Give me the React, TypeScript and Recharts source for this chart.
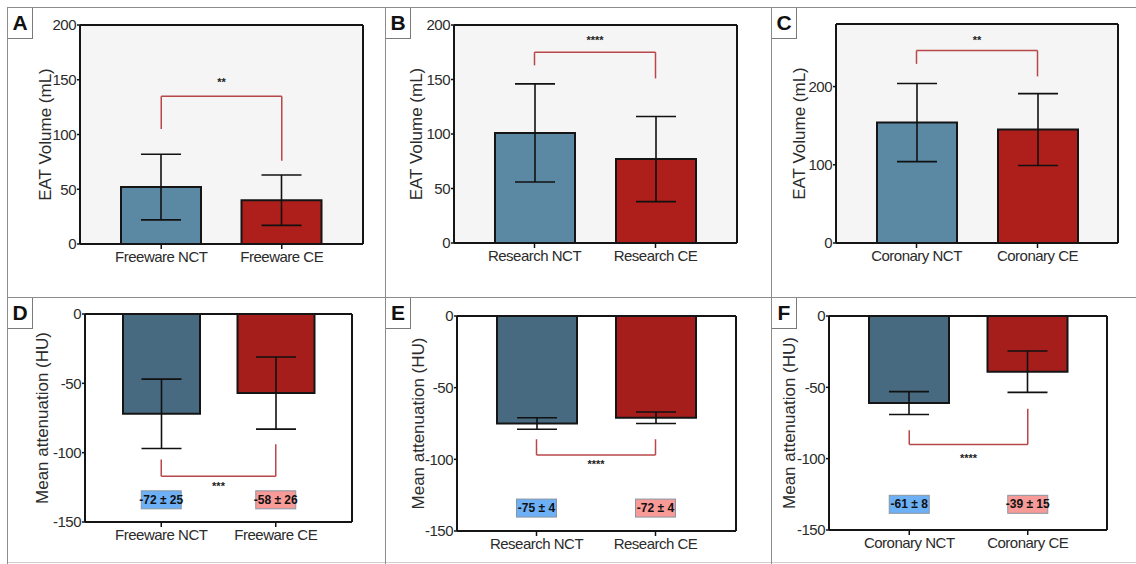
import React from 'react';
import {
  BarChart, Bar, Cell, ErrorBar, XAxis, YAxis, CartesianGrid,
  ReferenceLine, ReferenceDot,
} from 'recharts';

// categories
const freewareCats = ['Freeware NCT', 'Freeware CE'];
const researchCats = ['Research NCT', 'Research CE'];
const coronaryCats = ['Coronary NCT', 'Coronary CE'];

// EAT volume (mL), mean and SD
const freewareVolume = [52, 40];
const freewareVolumeSd = [30, 23];
const researchVolume = [101, 77];
const researchVolumeSd = [45, 39];
const coronaryVolume = [154, 145];
const coronaryVolumeSd = [50, 46];

// mean attenuation (HU), mean and SD
const freewareHu = [-72, -57];
const freewareHuSd = [25, 26];
const researchHu = [-75, -71];
const researchHuSd = [4, 4];
const coronaryHu = [-61, -39];
const coronaryHuSd = [8, 14.5];

const freewareHuText = ['-72 ± 25', '-58 ± 26'];
const researchHuText = ['-75 ± 4', '-72 ± 4'];
const coronaryHuText = ['-61 ± 8', '-39 ± 15'];

// significance brackets: [bar level, left leg end, right leg end]
const bracketA = [135, 105, 76];
const bracketB = [175, 163, 151];
const bracketC = [246, 229, 213];
const bracketD = [-117, -105, -94];
const bracketE = [-97, -86, -86];
const bracketF = [-90, -80, -65];

const volumeTicks = [0, 50, 100, 150, 200];
const coronaryTicks = [0, 100, 200];
const huTicks = [-150, -100, -50, 0];

const FONT = '"Liberation Sans", Arial, Helvetica, sans-serif';
const TOP_COLORS = ['#5b89a4', '#ae1f1b'];
const BOTTOM_COLORS = ['#476a80', '#a61e1c'];
const BRACKET = '#b8474a';

type Rect = { x: number; y: number; w: number; h: number };
type Plot = { x0: number; y0: number; x1: number; y1: number };

type PanelProps = {
  letter: string;
  cell: Rect;
  plot: Plot;
  cats: string[];
  means: number[];
  sds: number[];
  colors: string[];
  domain: [number, number];
  ticks: number[];
  yLabel: string;
  labelDx: number;
  bracket: number[];
  stars: string;
  starSide: 'top' | 'bottom';
  starOffset: number;
  bg: string;
  barSize: number;
  pad: [number, number];
  summary?: string[];
  summaryY?: number;
};

const SummaryBox = (props: any) => {
  const { cx, cy, text, fill } = props;
  const w = 40;
  const h = 18;
  return (
    <g>
      <rect x={cx - w / 2} y={cy - h / 2} width={w} height={h} fill={fill} stroke="#8a96a3" strokeWidth={1} />
      <text
        x={cx}
        y={cy + 4}
        textAnchor="middle"
        fontSize={12}
        fontWeight={700}
        fill="#111"
        style={{ fontFamily: '"Liberation Sans Narrow", "Arial Narrow", Arial, sans-serif' }}
      >
        {text}
      </text>
    </g>
  );
};

const tickStyle = { fontSize: 15, fill: '#2b2b2b', fontFamily: FONT, letterSpacing: -0.5 };

function Panel(p: PanelProps) {
  const yw = 60;
  const xh = 30;
  const data = p.cats.map((c, i) => ({ name: c, mean: p.means[i], sd: p.sds[i] }));
  const margin = {
    top: p.plot.y0 - p.cell.y,
    left: p.plot.x0 - p.cell.x - yw,
    right: p.cell.x + p.cell.w - p.plot.x1,
    bottom: p.cell.y + p.cell.h - p.plot.y1 - xh,
  };
  const [lvl, leftEnd, rightEnd] = p.bracket;
  const boxFills = ['#6db0f6', '#f79a98'];

  return (
    <div style={{ position: 'absolute', left: p.cell.x, top: p.cell.y, width: p.cell.w, height: p.cell.h }}>
      <BarChart width={p.cell.w} height={p.cell.h} data={data} margin={margin}>
        <CartesianGrid
          fill={p.bg}
          fillOpacity={1}
          stroke="#151515"
          strokeWidth={2}
          horizontalCoordinatesGenerator={({ offset }: any) => [offset.top, offset.top + offset.height]}
          verticalCoordinatesGenerator={({ offset }: any) => [offset.left, offset.left + offset.width]}
        />
        <XAxis
          dataKey="name"
          height={xh}
          axisLine={false}
          tickLine={{ stroke: '#111', strokeWidth: 1.5 }}
          tickSize={5}
          tickMargin={2}
          padding={{ left: p.pad[0], right: p.pad[1] }}
          tick={tickStyle}
          interval={0}
        />
        <YAxis
          width={yw}
          domain={p.domain}
          ticks={p.ticks}
          allowDataOverflow
          axisLine={false}
          tickLine={{ stroke: '#111', strokeWidth: 1.5 }}
          tickSize={3}
          tickMargin={1}
          tick={tickStyle}
          label={(lp: any) => {
            const vb = lp.viewBox;
            const cx = vb.x + vb.width - p.labelDx;
            const cy = vb.y + vb.height / 2;
            return (
              <text
                x={cx}
                y={cy}
                transform={`rotate(-90 ${cx} ${cy})`}
                textAnchor="middle"
                dominantBaseline="central"
                fontSize={17}
                fill="#2b2b2b"
                style={{ fontFamily: FONT }}
              >
                {p.yLabel}
              </text>
            );
          }}
        />
        <Bar dataKey="mean" barSize={p.barSize} stroke="#151515" strokeWidth={2} isAnimationActive={false}>
          {data.map((d, i) => (
            <Cell key={d.name} fill={p.colors[i]} />
          ))}
          <ErrorBar dataKey="sd" width={20} stroke="#111" strokeWidth={1.6} direction="y" />
        </Bar>
        <ReferenceLine
          segment={[{ x: p.cats[0], y: lvl }, { x: p.cats[1], y: lvl }]}
          stroke={BRACKET}
          strokeWidth={1.5}
          label={{
            value: p.stars,
            position: p.starSide,
            offset: p.starOffset,
            fontSize: 11,
            fontWeight: 700,
            fill: '#222',
            fontFamily: FONT,
          }}
        />
        <ReferenceLine segment={[{ x: p.cats[0], y: lvl }, { x: p.cats[0], y: leftEnd }]} stroke={BRACKET} strokeWidth={1.5} />
        <ReferenceLine segment={[{ x: p.cats[1], y: lvl }, { x: p.cats[1], y: rightEnd }]} stroke={BRACKET} strokeWidth={1.5} />
        {p.summary &&
          p.summary.map((t, i) => (
            <ReferenceDot
              key={t}
              x={p.cats[i]}
              y={p.summaryY}
              r={1}
              shape={(sp: any) => <SummaryBox {...sp} text={t} fill={boxFills[i]} />}
            />
          ))}
      </BarChart>
    </div>
  );
}

const LetterBox = ({ x, y, letter }: { x: number; y: number; letter: string }) => (
  <div
    style={{
      position: 'absolute',
      left: x,
      top: y,
      width: 24,
      height: 30,
      borderRight: '1px solid #7a7a7a',
      borderBottom: '1px solid #7a7a7a',
      background: '#fff',
      fontFamily: FONT,
      fontWeight: 700,
      fontSize: 21,
      lineHeight: '30px',
      textAlign: 'center',
      color: '#111',
      zIndex: 2,
    }}
  >
    {letter}
  </div>
);

const cols = [7, 385, 771];
const colW = [378, 386, 365];
const rows = [7, 297];
const rowH = [290, 265];

export default function App() {
  const common = { labelDx: 37, pad: [21, 21] as [number, number], barSize: 80 };
  return (
    <div style={{ position: 'absolute', left: 0, top: 0, width: 1136, height: 564, background: '#fff', overflow: 'hidden' }}>
      {/* panel frame lines */}
      <div style={{ position: 'absolute', left: 7, top: 7, width: 1129, height: 0, borderTop: '1.5px solid #8c8c8c' }} />
      <div style={{ position: 'absolute', left: 7, top: 297, width: 1129, height: 0, borderTop: '1.5px solid #8c8c8c' }} />
      <div style={{ position: 'absolute', left: 7, top: 562, width: 1129, height: 0, borderTop: '1px solid #d0d0d0' }} />
      {[7, 385, 771].map((x) => (
        <div key={x} style={{ position: 'absolute', left: x, top: 7, width: 0, height: 557, borderLeft: '1.5px solid #8c8c8c' }} />
      ))}

      <Panel
        {...common}
        letter="A"
        cell={{ x: cols[0], y: rows[0], w: colW[0], h: rowH[0] }}
        plot={{ x0: 80, y0: 25, x1: 363, y1: 244 }}
        cats={freewareCats}
        means={freewareVolume}
        sds={freewareVolumeSd}
        colors={TOP_COLORS}
        domain={[0, 200]}
        ticks={volumeTicks}
        yLabel="EAT Volume (mL)"
        labelDx={35}
        bracket={bracketA}
        stars="**"
        starSide="top"
        starOffset={10}
        bg="#f5f5f5"
      />
      <Panel
        {...common}
        letter="B"
        cell={{ x: cols[1], y: rows[0], w: colW[1], h: rowH[0] }}
        plot={{ x0: 454, y0: 25, x1: 737, y1: 243 }}
        cats={researchCats}
        means={researchVolume}
        sds={researchVolumeSd}
        colors={TOP_COLORS}
        domain={[0, 200]}
        ticks={volumeTicks}
        yLabel="EAT Volume (mL)"
        labelDx={38}
        bracket={bracketB}
        stars="****"
        starSide="top"
        starOffset={8}
        bg="#f5f5f5"
        pad={[20, 21]}
      />
      <Panel
        {...common}
        letter="C"
        cell={{ x: cols[2], y: rows[0], w: colW[2], h: rowH[0] }}
        plot={{ x0: 836, y0: 24, x1: 1118, y1: 243 }}
        cats={coronaryCats}
        means={coronaryVolume}
        sds={coronaryVolumeSd}
        colors={TOP_COLORS}
        domain={[0, 280]}
        ticks={coronaryTicks}
        yLabel="EAT Volume (mL)"
        labelDx={37}
        bracket={bracketC}
        stars="**"
        starSide="top"
        starOffset={7}
        bg="#f5f5f5"
        pad={[20, 20]}
      />
      <Panel
        {...common}
        letter="D"
        cell={{ x: cols[0], y: rows[1], w: colW[0], h: rowH[1] }}
        plot={{ x0: 85, y0: 314, x1: 352, y1: 522 }}
        cats={freewareCats}
        means={freewareHu}
        sds={freewareHuSd}
        colors={BOTTOM_COLORS}
        domain={[-150, 0]}
        ticks={huTicks}
        yLabel="Mean attenuation (HU)"
        labelDx={43}
        bracket={bracketD}
        stars="***"
        starSide="bottom"
        starOffset={6}
        bg="#ffffff"
        barSize={77}
        pad={[19, 19]}
        summary={freewareHuText}
        summaryY={-134}
      />
      <Panel
        {...common}
        letter="E"
        cell={{ x: cols[1], y: rows[1], w: colW[1], h: rowH[1] }}
        plot={{ x0: 457, y0: 316, x1: 736, y1: 531 }}
        cats={researchCats}
        means={researchHu}
        sds={researchHuSd}
        colors={BOTTOM_COLORS}
        domain={[-150, 0]}
        ticks={huTicks}
        yLabel="Mean attenuation (HU)"
        labelDx={39}
        bracket={bracketE}
        stars="****"
        starSide="bottom"
        starOffset={5}
        bg="#ffffff"
        pad={[20, 21]}
        summary={researchHuText}
        summaryY={-134}
      />
      <Panel
        {...common}
        letter="F"
        cell={{ x: cols[2], y: rows[1], w: colW[2], h: rowH[1] }}
        plot={{ x0: 829, y0: 316, x1: 1107, y1: 530 }}
        cats={coronaryCats}
        means={coronaryHu}
        sds={coronaryHuSd}
        colors={BOTTOM_COLORS}
        domain={[-150, 0]}
        ticks={huTicks}
        yLabel="Mean attenuation (HU)"
        labelDx={40}
        bracket={bracketF}
        stars="****"
        starSide="bottom"
        starOffset={10}
        bg="#ffffff"
        pad={[21, 20]}
        summary={coronaryHuText}
        summaryY={-132}
      />

      <LetterBox x={8} y={8} letter="A" />
      <LetterBox x={386} y={8} letter="B" />
      <LetterBox x={772} y={8} letter="C" />
      <LetterBox x={8} y={298} letter="D" />
      <LetterBox x={386} y={298} letter="E" />
      <LetterBox x={772} y={298} letter="F" />
    </div>
  );
}
